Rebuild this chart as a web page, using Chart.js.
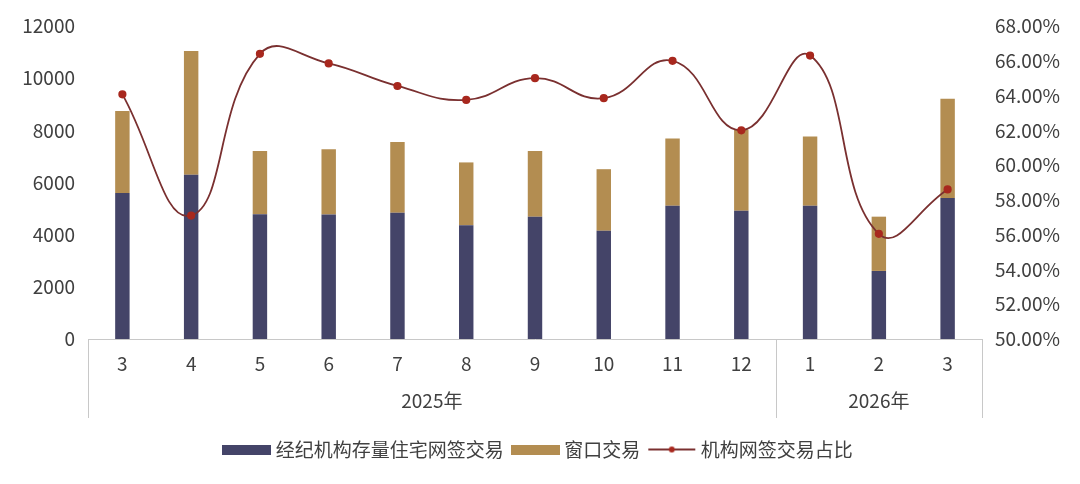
<!DOCTYPE html>
<html>
<head>
<meta charset="utf-8">
<script src="https://cdn.jsdelivr.net/npm/chart.js@4"></script>
<style>
  html, body { margin: 0; padding: 0; background: #fff; }
  #wrap { width: 1080px; height: 484px; }
</style>
</head>
<body>
<div id="wrap"><canvas id="chart" width="1080" height="484"></canvas></div>
<script>
const months = ['3', '4', '5', '6', '7', '8', '9', '10', '11', '12', '1', '2', '3'];
const years = [
    { label: '2025年', from: 0, to: 9 },
    { label: '2026年', from: 10, to: 12 }
];
const agencyDeals = [5600, 6300, 4780, 4770, 4840, 4360, 4690, 4150, 5110, 4920, 5110, 2610, 5410];
const windowDeals = [3140, 4740, 2430, 2500, 2710, 2410, 2520, 2360, 2580, 3090, 2650, 2080, 3800];
const agencyShare = [64.07, 57.1, 66.4, 65.85, 64.55, 63.75, 65.0, 63.85, 66.0, 62.0, 66.3, 56.05, 58.6];
const leftTicks = [0, 2000, 4000, 6000, 8000, 10000, 12000];
const rightTicks = [50, 52, 54, 56, 58, 60, 62, 64, 66, 68];

const FONT = '"Noto Sans CJK SC", "Noto Sans", sans-serif';
const TEXT = '#404040';
const AXIS_LINE = '#c8c8c8';
const NAVY = '#444468';
const GOLD = '#b38d51';
const LINE = '#7a3030';
const DOT = '#a8281e';

function swatch(w, h, draw) {
    const c = document.createElement('canvas');
    c.width = w; c.height = h;
    draw(c.getContext('2d'), w, h);
    return c;
}
// legend icons are 49px wide, the legend box is told 39 so the text sits closer
const navyIcon = swatch(49, 10, (g, w, h) => { g.fillStyle = NAVY; g.fillRect(0, 0, w, h); });
const goldIcon = swatch(49, 10, (g, w, h) => { g.fillStyle = GOLD; g.fillRect(0, 0, w, h); });
const lineIcon = swatch(49, 10, (g, w, h) => {
    g.strokeStyle = LINE; g.lineWidth = 2;
    g.beginPath(); g.moveTo(1, h / 2); g.lineTo(w - 1, h / 2); g.stroke();
    g.fillStyle = DOT; g.beginPath(); g.arc(w / 2, h / 2, 3, 0, Math.PI * 2); g.fill();
});

// year row under the month labels, with separators
const groupAxis = {
    id: 'groupAxis',
    afterDraw(chart) {
        const { ctx, chartArea, scales: { x } } = chart;
        const top = chartArea.bottom;
        const bottom = top + 79;
        const edge = i => {
            if (i <= 0) return chartArea.left;
            if (i >= months.length) return chartArea.right;
            return (x.getPixelForValue(i - 1) + x.getPixelForValue(i)) / 2;
        };
        ctx.save();
        ctx.strokeStyle = AXIS_LINE;
        ctx.lineWidth = 1;
        const cuts = [0];
        years.forEach(y => cuts.push(y.to + 1));
        cuts.forEach(i => {
            const px = Math.round(edge(i)) + 0.5;
            ctx.beginPath(); ctx.moveTo(px, top); ctx.lineTo(px, bottom); ctx.stroke();
        });
        ctx.fillStyle = TEXT;
        ctx.font = '19px ' + FONT;
        ctx.textAlign = 'center';
        ctx.textBaseline = 'middle';
        years.forEach(y => {
            ctx.fillText(y.label, (edge(y.from) + edge(y.to + 1)) / 2, top + 62);
        });
        ctx.restore();
    }
};

new Chart(document.getElementById('chart'), {
    type: 'bar',
    data: {
        labels: months,
        datasets: [
            {
                type: 'line',
                label: '机构网签交易占比',
                data: agencyShare,
                yAxisID: 'y1',
                borderColor: LINE,
                borderWidth: 1.8,
                backgroundColor: DOT,
                pointBackgroundColor: DOT,
                pointBorderColor: DOT,
                pointRadius: 3.2,
                tension: 0.45,
                order: 0
            },
            {
                label: '经纪机构存量住宅网签交易',
                data: agencyDeals,
                backgroundColor: NAVY,
                stack: 'deals',
                order: 1,
                barPercentage: 0.21,
                categoryPercentage: 1
            },
            {
                label: '窗口交易',
                data: windowDeals,
                backgroundColor: GOLD,
                stack: 'deals',
                order: 1,
                barPercentage: 0.21,
                categoryPercentage: 1
            }
        ]
    },
    options: {
        responsive: false,
        animation: false,
        layout: { padding: { top: 26, left: 0, right: 0, bottom: 15 } },
        scales: {
            x: {
                stacked: true,
                grid: { display: false, drawTicks: false },
                border: { display: true, color: AXIS_LINE },
                ticks: { color: TEXT, font: { family: FONT, size: 19 }, padding: 13 },
                afterFit: s => { s.height = 89; }
            },
            y: {
                stacked: true,
                min: 0,
                max: 12000,
                afterBuildTicks: s => { s.ticks = leftTicks.map(v => ({ value: v })); },
                grid: { display: false, drawTicks: false },
                border: { display: false },
                ticks: {
                    color: TEXT,
                    font: { family: FONT, size: 19 },
                    padding: 13,
                    callback: v => String(v)
                },
                afterFit: s => { s.width = 88; }
            },
            y1: {
                position: 'right',
                min: 50,
                max: 68,
                afterBuildTicks: s => { s.ticks = rightTicks.map(v => ({ value: v })); },
                grid: { display: false, drawTicks: false },
                border: { display: false },
                ticks: {
                    color: TEXT,
                    font: { family: FONT, size: 19 },
                    padding: 13,
                    callback: v => v.toFixed(2) + '%'
                },
                afterFit: s => { s.width = 98; }
            }
        },
        plugins: {
            tooltip: { enabled: false },
            legend: {
                position: 'bottom',
                labels: {
                    color: TEXT,
                    font: { family: FONT, size: 19 },
                    usePointStyle: true,
                    pointStyleWidth: 39,
                    padding: 12,
                    generateLabels: chart => chart.data.datasets.map((ds, i) => ({
                        text: ds.label,
                        pointStyle: [lineIcon, navyIcon, goldIcon][i],
                        fontColor: TEXT,
                        datasetIndex: i,
                        hidden: false,
                        lineWidth: 0
                    })).sort((a, b) => ((a.datasetIndex + 2) % 3) - ((b.datasetIndex + 2) % 3))
                }
            }
        }
    },
    plugins: [groupAxis]
});
</script>
</body>
</html>
